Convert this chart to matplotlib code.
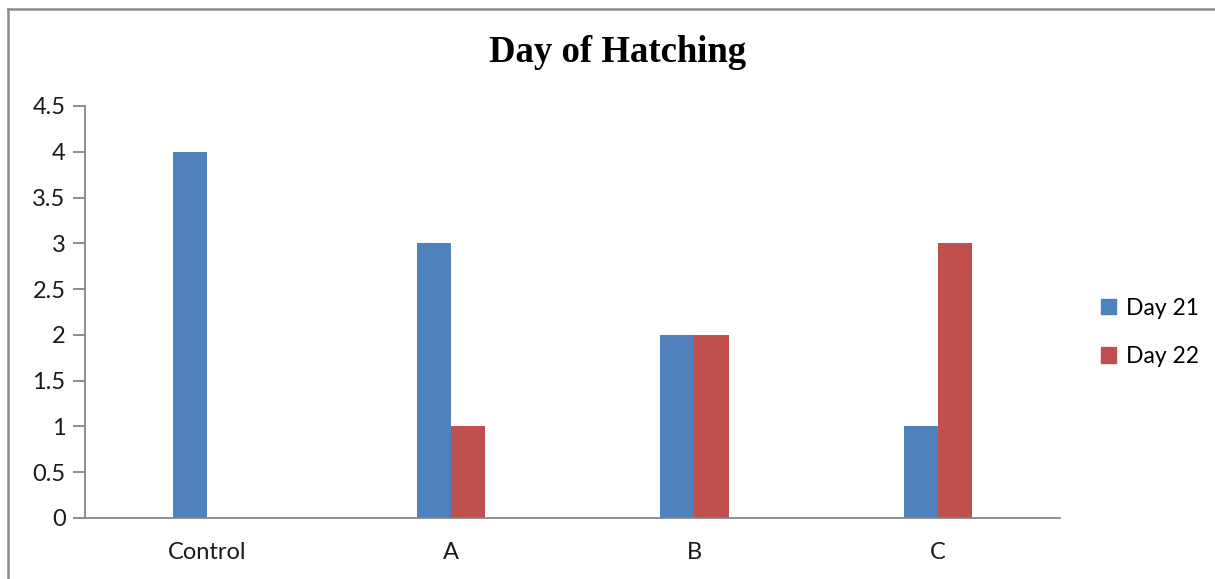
import matplotlib.pyplot as plt
from matplotlib.lines import Line2D
from matplotlib.patches import Patch
import numpy as np

groups = ['Control', 'A', 'B', 'C']
day21 = [4, 3, 2, 1]
day22 = [0, 1, 2, 3]
yticks = [0, 0.5, 1, 1.5, 2, 2.5, 3, 3.5, 4, 4.5]

blue = '#4F81BD'
red = '#C0504D'
axis_gray = '#868686'

plt.rcParams['font.family'] = ['Lato', 'DejaVu Sans']

fig = plt.figure(figsize=(12.15, 5.79), dpi=100)
ax = fig.add_axes([0.07, 0.1054, 0.8025, 0.7116])

x = np.arange(len(groups))
w = 0.14
ax.bar(x - w / 2, day21, w, color=blue, label='Day 21')
ax.bar(x + w / 2, day22, w, color=red, label='Day 22')

ax.set_xlim(-0.5, 3.5)
ax.set_ylim(0, 4.5)
ax.set_yticks(yticks)
ax.set_yticklabels([f'{t:g}' for t in yticks], fontsize=17, color='#1a1a1a')
ax.set_xticks(x)
ax.set_xticklabels(groups, fontsize=17, color='#1a1a1a')

for s in ['top', 'right']:
    ax.spines[s].set_visible(False)
for s in ['left', 'bottom']:
    ax.spines[s].set_color(axis_gray)
    ax.spines[s].set_linewidth(1.3)
ax.tick_params(axis='y', length=9, width=1.3, color=axis_gray, pad=5)
ax.tick_params(axis='x', length=0, pad=17)

fig.text(0.508, 0.91, 'Day of Hatching', ha='center', va='center',
         family='Liberation Serif', fontweight='bold', fontsize=26.5)

handles = [Patch(color=blue, label='Day 21'), Patch(color=red, label='Day 22')]
fig.legend(handles=handles, loc='center left', bbox_to_anchor=(0.906, 0.426),
           frameon=False, fontsize=16.5, handlelength=0.65, handleheight=0.65,
           handletextpad=0.45, labelspacing=1.2, borderpad=0, borderaxespad=0)

# chart frame: top and left edges
fig.add_artist(Line2D([0.0066, 1.0], [0.9845, 0.9845], transform=fig.transFigure,
                      color='#8c8c8c', linewidth=1.8))
fig.add_artist(Line2D([0.0066, 0.0066], [0.0, 0.9845], transform=fig.transFigure,
                      color='#8c8c8c', linewidth=1.8))

fig.savefig('out.png', dpi=100)
